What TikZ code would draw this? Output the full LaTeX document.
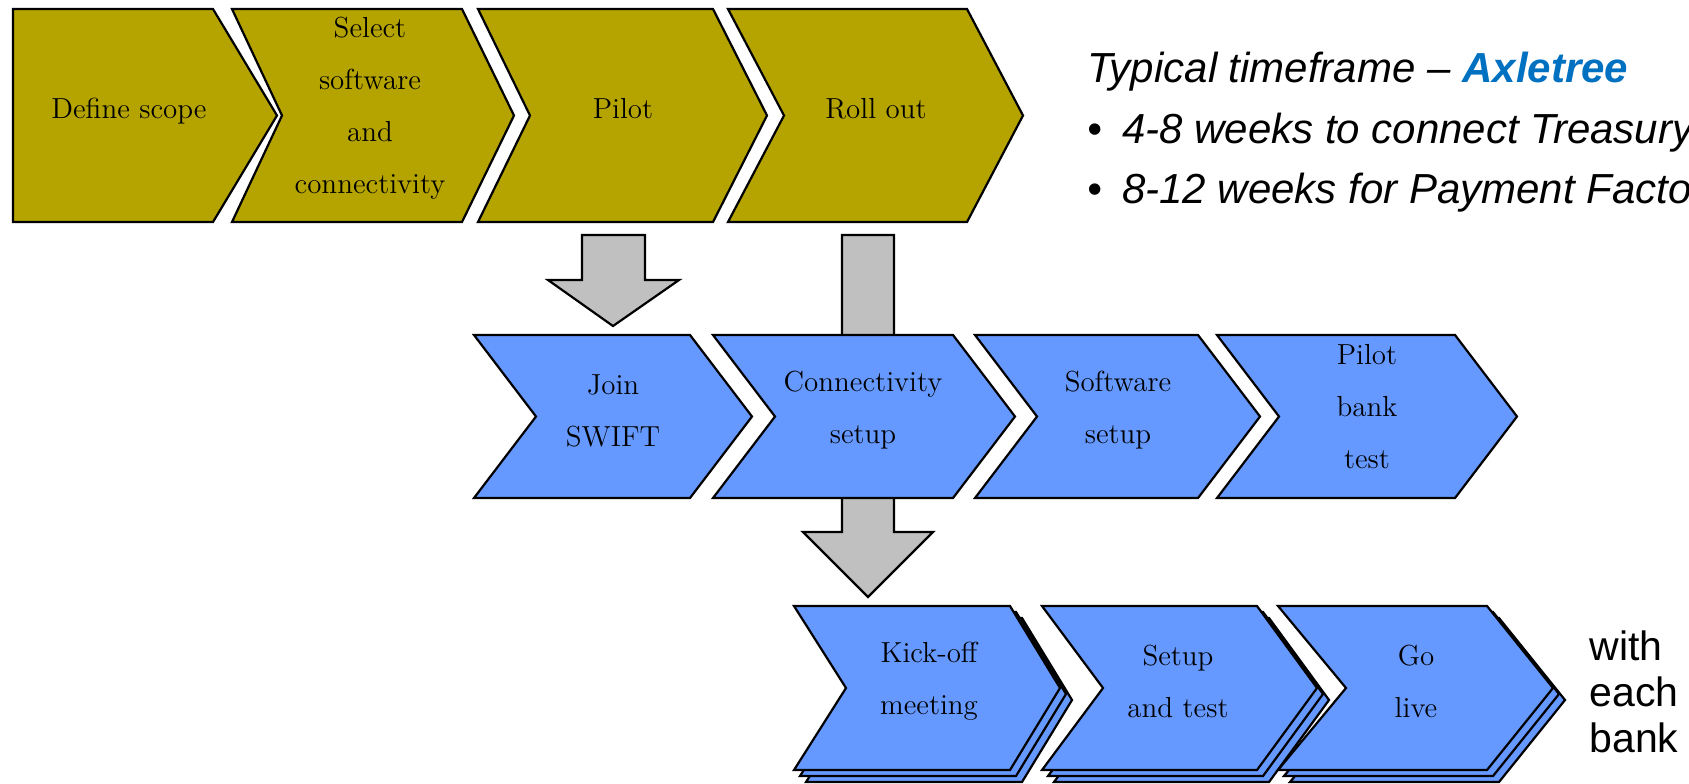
\documentclass[tikz,border=0pt]{standalone}
\usepackage{fontspec}
\newfontfamily\arialfont{Liberation Sans}
\definecolor{olivefill}{RGB}{181,164,0}
\definecolor{stepblue}{RGB}{102,153,255}
\definecolor{arrowgray}{RGB}{192,192,192}
\definecolor{axleblue}{RGB}{0,112,192}
% chevron: left, notch, right, tip, top, bottom
\newcommand{\chevpath}[6]{(#1,#5) -- (#3,#5) -- (#4,{(#5+#6)/2}) -- (#3,#6) -- (#1,#6) -- (#2,{(#5+#6)/2}) -- cycle}
\begin{document}
\begin{tikzpicture}[x=0.5pt,y=-0.5pt,
		olivestep/.style={draw=black,line width=1.1pt,fill=olivefill},
		bluestep/.style={draw=black,line width=1.1pt,fill=stepblue},
		grayarrow/.style={draw=black,line width=1.1pt,fill=arrowgray},
		steptext/.style={align=center,font=\fontsize{14.5}{26}\selectfont},
		sidetext/.style={anchor=base west,inner sep=0pt,font=\arialfont\itshape\fontsize{21}{25}\selectfont}]
		\useasboundingbox (0,0) rectangle (1689,783);
		% block arrows between the rows
		\draw[grayarrow] (582,235) -- (645,235) -- (645,280) -- (679,280) -- (613,326) -- (548,280) -- (582,280) -- cycle;
		\draw[grayarrow] (842,235) -- (894,235) -- (894,532) -- (933,532) -- (868,597) -- (803,532) -- (842,532) -- cycle;
		% top row
		\draw[olivestep] \chevpath{13}{13}{213}{277}{9}{222};
		\draw[olivestep] \chevpath{232}{282}{462}{514}{9}{222};
		\draw[olivestep] \chevpath{478}{530}{713}{767}{9}{222};
		\draw[olivestep] \chevpath{728}{784}{967}{1023}{9}{222};
		% middle row
		\draw[bluestep] \chevpath{474}{536}{690}{752}{335}{498};
		\draw[bluestep] \chevpath{713}{775}{953}{1015}{335}{498};
		\draw[bluestep] \chevpath{975}{1037}{1198}{1260}{335}{498};
		\draw[bluestep] \chevpath{1217}{1279}{1455}{1517}{335}{498};
		% bottom row, one stack per bank
		\foreach \l/\n/\r/\t in {794/846/1010/1060, 1042/1103/1257/1317, 1278/1346/1487/1553}
			\foreach \d in {12,6,0}
				\draw[bluestep,shift={(\d,\d)}] \chevpath{\l}{\n}{\r}{\t}{606}{770};
		\node[steptext] (scope) at (129,111) {Define scope};
		\node[steptext] (select) at (370,108) {Select\\software\\and\\connectivity};
		\node[steptext] (pilot) at (623,109) {Pilot};
		\node[steptext] (rollout) at (876,109) {Roll out};
		\node[steptext] (join) at (613,411) {Join\\SWIFT};
		\node[steptext] (connect) at (863,410) {Connectivity\\setup};
		\node[steptext] (software) at (1118,410) {Software\\setup};
		\node[steptext] (pilotbank) at (1367,407) {Pilot\\bank\\test};
		\node[steptext] (kickoff) at (929,681) {Kick-off\\meeting};
		\node[steptext] (setup) at (1178,681) {Setup\\and test};
		\node[steptext] (golive) at (1416,681) {Go\\live};
		% timeframe notes
		\node[sidetext] (timeframe) at (1087,82) {Typical timeframe – {\bfseries\color{axleblue}Axletree}};
		\node[sidetext] (weeks1) at (1087,143) {•\hspace{10pt}4-8 weeks to connect Treasury};
		\node[sidetext] (weeks2) at (1087,203) {•\hspace{10pt}8-12 weeks for Payment Factory};
		\node[align=left,inner sep=0pt,font=\arialfont\fontsize{20.5}{23}\selectfont] (eachbank) at (1634,692) {with\\each\\bank};
	\end{tikzpicture}
\end{document}
